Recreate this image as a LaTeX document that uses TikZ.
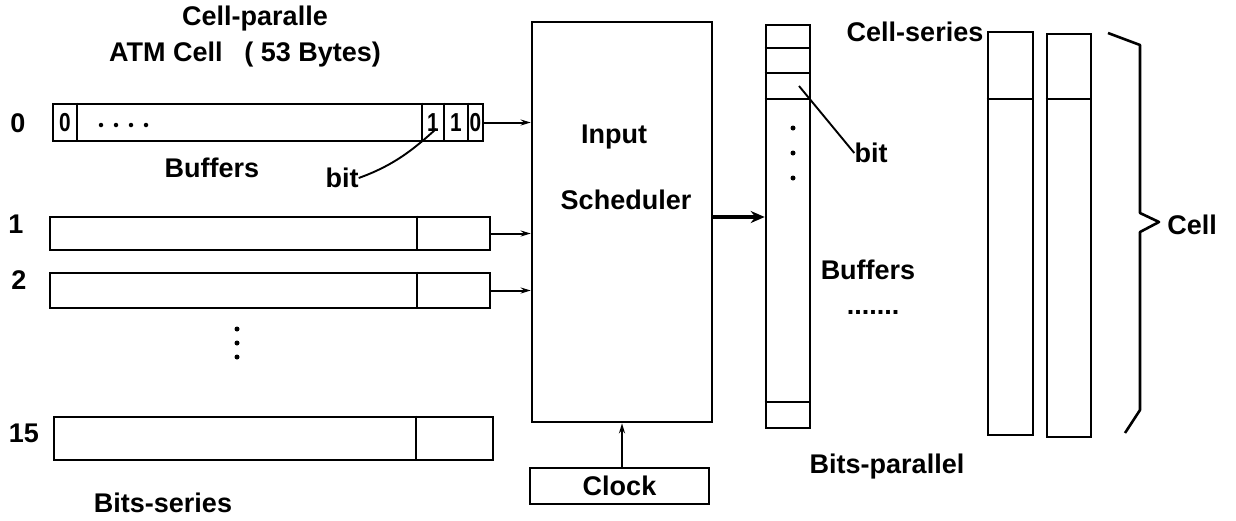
\documentclass[tikz,border=0pt]{standalone}
\usepackage{fontspec}
\setmainfont{Liberation Sans}
\usetikzlibrary{arrows.meta}
\begin{document}
\begin{tikzpicture}[x=1pt,y=-1pt,
  every node/.style={font=\fontsize{27}{30}\selectfont\bfseries, inner sep=0pt},
  small/.style={font=\fontsize{26}{28}\selectfont\bfseries},
  box/.style={draw, line width=2.6pt, minimum width=#1, inner sep=0pt},
  ln/.style={line width=2.6pt},
  thin/.style={line width=1.9pt},
  arr/.style={line width=2pt, -{Stealth[length=10pt,width=6pt]}},
  bigarr/.style={line width=4.5pt, -{Stealth[length=14pt,width=12pt]}},
  dot/.style={circle, fill=black, minimum size=5pt}
]
\useasboundingbox (0,0) rectangle (1236,520);

% texts on top
\node (tcp) at (255,19) {Cell-paralle};
\node (tatm) at (245,55) {ATM Cell\hspace{0.8em}( 53 Bytes)};

% buffer 0
\node[box=430pt, minimum height=37pt] (b0) at (268,122.5) {};
\draw[ln] (77,0 |- b0.north) -- (77,0 |- b0.south);
\draw[ln] (422,0 |- b0.north) -- (422,0 |- b0.south);
\draw[ln] (444,0 |- b0.north) -- (444,0 |- b0.south);
\draw[ln] (468,0 |- b0.north) -- (468,0 |- b0.south);
\node[small] (c0a) at (65,123) {\scalebox{0.8}[1]{0}};
\node[small] (c1a) at (433,123) {\scalebox{0.8}[1]{1}};
\node[small] (c1b) at (456,123) {\scalebox{0.8}[1]{1}};
\node[small] (c0b) at (475.5,123) {\scalebox{0.8}[1]{0}};
\node[dot, minimum size=4.5pt] (d01) at (101,125) {};
\node[dot, minimum size=4.5pt] (d02) at (116,125) {};
\node[dot, minimum size=4.5pt] (d03) at (131,125) {};
\node[dot, minimum size=4.5pt] (d04) at (146,125) {};
\node (r0) at (18,123) {0};
\node (buf1) at (212,168) {Buffers};
\node (bit1) at (342,178) {bit};
\draw[thin] (bit1.east) .. controls (395,165) and (415,148) .. (436,129);

% buffers 1, 2, 15
\node[box=440pt, minimum height=33pt] (b1) at (270,233.5) {};
\draw[ln] (417,0 |- b1.north) -- (417,0 |- b1.south);
\node[box=440pt, minimum height=35pt] (b2) at (270,290.5) {};
\draw[ln] (417,0 |- b2.north) -- (417,0 |- b2.south);
\node[box=439pt, minimum height=43pt] (b15) at (273.5,438.5) {};
\draw[ln] (416,0 |- b15.north) -- (416,0 |- b15.south);
\node (r1) at (16,224) {1};
\node (r2) at (19,280) {2};
\node (r15) at (24,433) {15};
\node[dot] (v1) at (237,329) {};
\node[dot] (v2) at (237,343) {};
\node[dot] (v3) at (237,357) {};
\node (bseries) at (163,503) {Bits-series};

% scheduler and clock
\node[box=180pt, minimum height=400pt] (sched) at (622,222) {};
\node (tin) at (614,137) {Input};
\node (tsch) at (626,200) {Scheduler};
\node[box=179pt, minimum height=36pt] (clock) at (619.5,486) {Clock};
\draw[arr] (clock.north -| sched.south) -- (sched.south);

\draw[arr] (b0.east) -- (b0.east -| sched.west);
\draw[arr] (b1.east) -- (b1.east -| sched.west);
\draw[arr] (b2.east) -- (b2.east -| sched.west);

% bits-parallel column
\node[box=44pt, minimum height=403pt] (colp) at (788,226.5) {};
\draw[ln] (colp.west |- 0,48) -- (colp.east |- 0,48);
\draw[ln] (colp.west |- 0,73) -- (colp.east |- 0,73);
\draw[ln] (colp.west |- 0,99) -- (colp.east |- 0,99);
\draw[ln] (colp.west |- 0,402) -- (colp.east |- 0,402);
\node[dot] (p1) at (793,128) {};
\node[dot] (p2) at (793,153) {};
\node[dot] (p3) at (793,178) {};
\draw[bigarr] ([yshift=5pt]sched.east) -- ([yshift=5pt]sched.east -| colp.west);
\node (bit2) at (871,153) {bit};
\coordinate (bitp) at (799,86);
\draw[thin] (bit2.west) -- (bitp);
\node (buf2) at (868,270) {Buffers};
\node (dots2) at (873,312) {.......};
\node (bpar) at (887,467) {Bits-parallel};

% cell-series columns
\node (cser) at (915,32) {Cell-series};
\node[box=45pt, minimum height=403pt] (ca) at (1010.5,233.5) {};
\draw[ln] (ca.west |- 0,99) -- (ca.east |- 0,99);
\node[box=44pt, minimum height=403pt] (cb) at (1069,235.5) {};
\draw[ln] (cb.west |- 0,99) -- (cb.east |- 0,99);

% brace
\draw[ln, line join=round] (1108,33) -- (1140,45) -- (1140,213) -- (1159,222) -- (1140,232) -- (1140,410) -- (1125,433);
\node (tcell) at (1192,225) {Cell};
\end{tikzpicture}
\end{document}
